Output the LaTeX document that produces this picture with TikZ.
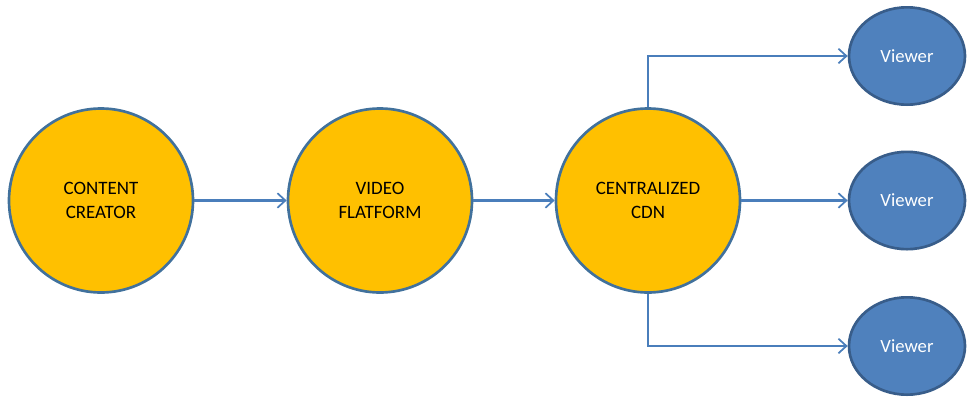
\documentclass[tikz,border=0pt]{standalone}
\usepackage{fontspec}
\setmainfont{Carlito}
\usetikzlibrary{arrows.meta,shapes.geometric}
\definecolor{orfill}{HTML}{FFC000}
\definecolor{bord}{HTML}{41719C}
\definecolor{vfill}{HTML}{4F81BD}
\definecolor{vbord}{HTML}{385D8A}
\definecolor{arr}{HTML}{4A7EBB}
\tikzset{
  bigc/.style={circle,draw=bord,fill=orfill,line width=2pt,minimum size=138pt,inner sep=0pt,align=center,font=\fontsize{14.2}{18}\selectfont,text=black},
  viewer/.style={ellipse,draw=vbord,fill=vfill,line width=2pt,minimum width=87pt,minimum height=73pt,inner sep=0pt,font=\fontsize{14}{17}\selectfont,text=white},
  conn/.style={draw=arr,line width=1.6pt,-{Straight Barb[length=6pt,width=11pt,line width=1.3pt]}}
}
\begin{document}
\begin{tikzpicture}[x=0.75pt,y=-0.75pt]
\useasboundingbox (0,0) rectangle (967,397);
\node[bigc] (cc) at (101,200.5) {CONTENT\\CREATOR};
\node[bigc] (vf) at (380,200.5) {VIDEO\\FLATFORM};
\node[bigc] (cdn) at (648,200.5) {CENTRALIZED\\CDN};
\node[viewer] (v1) at (907,56) {Viewer};
\node[viewer] (v2) at (907,200.5) {Viewer};
\node[viewer] (v3) at (907,346) {Viewer};
\draw[conn] (cc) -- (vf);
\draw[conn] (vf) -- (cdn);
\draw[conn] (cdn.north) |- (v1.west);
\draw[conn] (cdn.east) -- (v2.west);
\draw[conn] (cdn.south) |- (v3.west);
\end{tikzpicture}
\end{document}
